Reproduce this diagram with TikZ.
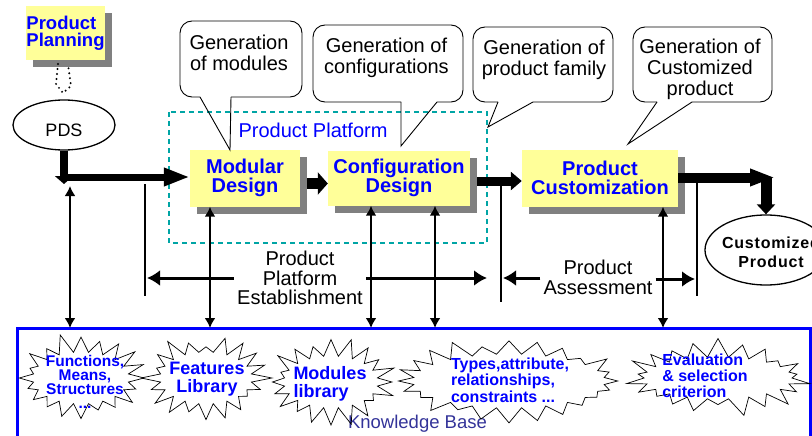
\documentclass[tikz,border=0pt]{standalone}
\usepackage{fontspec}
\setmainfont{Liberation Sans}
\usetikzlibrary{arrows.meta,shapes.geometric,shapes.symbols,shadows}
\definecolor{boxyellow}{RGB}{255,255,153}
\definecolor{stageblue}{RGB}{0,0,255}
\definecolor{platteal}{RGB}{0,165,165}
\definecolor{kbnavy}{RGB}{51,51,153}

\begin{document}
\begin{tikzpicture}[>=latex, x=1pt, y=-1pt,
    stagebox/.style={fill=boxyellow, text=stageblue, align=center, inner sep=0pt,
        font=\fontsize{20}{18.5}\selectfont\bfseries,
        drop shadow={shadow xshift=7pt, shadow yshift=-7pt, fill=gray, opacity=1}},
    bigflow/.style={line width=9pt, -{Triangle[length=11pt,width=18pt]}},
    bubblebox/.style={line width=0.9pt, rounded corners=12pt},
    bubbletxt/.style={font=\fontsize{20}{21}\selectfont, align=center, inner sep=0pt},
    phase/.style={font=\fontsize{20}{19.5}\selectfont, align=center, inner sep=3pt},
    phasebar/.style={line width=2.8pt},
    phasearrow/.style={line width=3pt, -{Latex[length=13pt,width=16pt]}},
    kblink/.style={line width=2.2pt, {Latex[length=10pt,width=11pt]}-{Latex[length=10pt,width=11pt]}},
    libburst/.style={starburst, draw, line width=0.7pt, starburst points=20, starburst point height=20pt, inner sep=0pt},
    kbtxt/.style={text=stageblue, font=\fontsize{16}{16}\selectfont\bfseries, inner sep=0pt}
]
\useasboundingbox (0,0) rectangle (812,436);

% product platform frame
\draw[platteal, line width=1.2pt, dash pattern=on 5pt off 4pt] (169,112) rectangle (487,243);
\node[text=stageblue, font=\fontsize{20}{20}\selectfont, inner sep=0pt] (pp) at (313,130.5) {Product Platform};

% stages
\node[stagebox, font=\fontsize{18.5}{17}\selectfont\bfseries, align=left, minimum width=79pt, minimum height=54pt] (plan) at (65.5,33) {Product\\Planning};
\node[ellipse, draw, line width=1.3pt, minimum width=102pt, minimum height=50pt] (pds) at (64,125) {};
\node[font=\fontsize{18}{20}\selectfont, inner sep=0pt] (pdst) at (64,130.5) {PDS};
\node[stagebox, minimum width=110pt, minimum height=57pt] (md) at (245,178) {Modular\\Design};
\node[stagebox, minimum width=142pt, minimum height=55pt] (cd) at (399,178) {Configuration\\Design};
\node[stagebox, minimum width=156pt, minimum height=57pt] (pc) at (600,178) {Product\\Customization};
\node[ellipse, draw, line width=1.3pt, minimum width=122pt, minimum height=70pt] (cp) at (766,250) {};
\node[font=\fontsize{16}{19}\selectfont\bfseries\addfontfeature{LetterSpace=5}, align=center, inner sep=0pt] (cpt) at (771,252) {Customized\\Product};

% planning feeds the PDS
\draw[line width=2.2pt, line cap=round, dash pattern=on 0pt off 5pt] (58,64) -- (56,84) -- (63,93) -- (71,86) -- (68,64);

% main flow
\coordinate (pdsturn) at (64,177);
\coordinate (cpturn) at (766,177.5);
\draw[bigflow, line width=8pt, -{Triangle[length=8pt,width=18pt]}] (pds.south) -- ([yshift=-7pt]pdsturn);
\draw[bigflow, line width=7pt, -{Triangle[length=26pt,width=17pt]}] ([xshift=-3pt]pdsturn) -- (pdsturn -| md.west);
\draw[bigflow, line width=11pt, -{Triangle[length=10pt,width=22pt]}] ([xshift=7pt,yshift=-5.5pt]md.east) -- ([yshift=-5.5pt]cd.west);
\draw[bigflow] ([xshift=7pt,yshift=-3pt]cd.east) -- ([yshift=-3pt]pc.west);
\draw[bigflow, line width=10pt, -{Triangle[length=25pt,width=16pt]}] ([yshift=0.5pt]pc.east) -- ([xshift=9pt]cpturn);
\draw[bigflow, line width=11pt, -{Triangle[length=10pt,width=18pt]}] (cpturn) -- (cp.north);

% callouts
\draw[bubblebox] (231,97) -- (302,97) |- (180,21) |- (200,97);
\draw[line width=0.9pt] (200,97) -- (230,150) -- (231,97);
\node[bubbletxt] (g1) at (239,53) {Generation\\of modules};
\draw[bubblebox] (437,102) -- (463,102) |- (313,25) |- (401,102);
\draw[line width=0.9pt] (401,102) -- (401,146) -- (437,102);
\node[bubbletxt] (g2) at (386.5,57.5) {Generation of\\configurations};
\draw[bubblebox] (533,102) -- (613,102) |- (473,27) |- (498,102);
\draw[line width=0.9pt] (498,102) -- (488,127) -- (533,102);
\node[bubbletxt] (g3) at (544,59.5) {Generation of\\product family};
\draw[bubblebox] (692,102) -- (772,102) |- (633,27) |- (657,102);
\draw[line width=0.9pt] (657,102) -- (628,144) -- (692,102);
\node[bubbletxt] (g4) at (700,69) {Generation of\\Customized\\product};

% knowledge base
\node[draw=stageblue, line width=3pt, anchor=north west, outer sep=0pt, inner sep=0pt, minimum width=793pt, minimum height=140pt] (kb) at (17,328) {};
\node[text=kbnavy, font=\fontsize{18.5}{20}\selectfont, inner sep=0pt, anchor=base] (kbl) at (417.5,428) {Knowledge Base};

\node[libburst, minimum width=136pt, minimum height=92pt, random starburst=11] (fms) at (81,378) {};
\node[kbtxt, align=center, font=\fontsize{15.5}{14}\selectfont\bfseries] (fmst) at (85,382) {Functions,\\Means,\\Structures\\...};
\node[libburst, minimum width=132pt, minimum height=92pt, random starburst=23] (fl) at (206,378) {};
\node[kbtxt, align=center, font=\fontsize{18}{18}\selectfont\bfseries] (flt) at (207,379.5) {Features\\Library};
\node[libburst, minimum width=134pt, minimum height=92pt, random starburst=37] (ml) at (331,382) {};
\node[kbtxt, align=left, font=\fontsize{18}{18}\selectfont\bfseries] (mlt) at (330,384) {Modules\\library};
\node[libburst, minimum width=232pt, minimum height=94pt, starburst points=24, random starburst=41] (tarc) at (509,381) {};
\node[kbtxt, align=left, font=\fontsize{16}{16.5}\selectfont\bfseries] (tarct) at (510,380) {Types,attribute,\\relationships,\\constraints ...};
\node[libburst, minimum width=188pt, minimum height=82pt, starburst points=22, random starburst=53] (esc) at (718,378) {};
\node[kbtxt, align=left, font=\fontsize{16}{16}\selectfont\bfseries] (esct) at (705,375.5) {Evaluation\\\& selection\\criterion};

% links to the knowledge base
\coordinate (fn) at (70,186);
\draw[kblink] (fn) -- (fn |- kb.north);
\draw[kblink] ([xshift=-35pt]md.south) -- ([xshift=-35pt]md.south |- kb.north);
\draw[kblink] ([xshift=-28pt]cd.south) -- ([xshift=-28pt]cd.south |- kb.north);
\draw[kblink] ([xshift=36pt]cd.south) -- ([xshift=36pt]cd.south |- kb.north);
\draw[kblink] ([xshift=63pt]pc.south) -- ([xshift=63pt]pc.south |- kb.north);

% phases
\draw[phasebar] (145,184) -- (145,296);
\draw[phasebar] (501,184) -- (501,302);
\draw[phasebar] (697,181) -- (697,296);
\coordinate (ppa) at (145,278);
\coordinate (ppb) at (501,278);
\coordinate (pab) at (697,279);
\node[phase] (ppe) at (300,278) {Product\\Platform\\Establishment};
\node[phase, font=\fontsize{20}{20}\selectfont] (pa) at (598,277.5) {Product\\Assessment};
\draw[phasearrow] (ppa -| ppe.west) -- ([xshift=2pt]ppa);
\draw[phasearrow] (ppb -| ppe.east) -- ([xshift=-14pt]ppb);
\draw[phasearrow] (ppb -| pa.west) -- ([xshift=2pt]ppb);
\draw[phasearrow] (pab -| pa.east) -- ([xshift=-2pt]pab);
\end{tikzpicture}
\end{document}
